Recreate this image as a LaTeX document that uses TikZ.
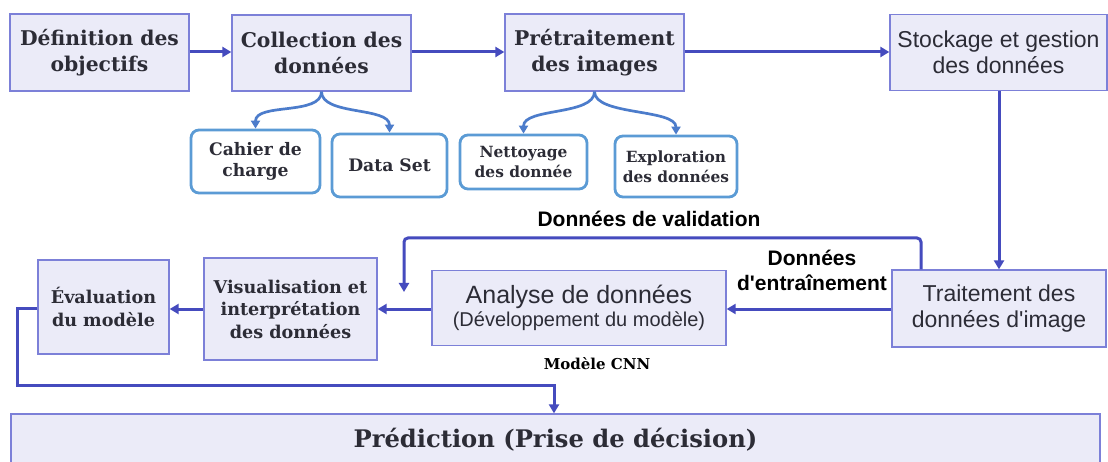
\documentclass[tikz,border=0pt]{standalone}
\usepackage{fontspec}
\setmainfont{DejaVu Serif}
\newfontfamily\sansf{Liberation Sans}
\usetikzlibrary{arrows.meta}
\definecolor{boxfill}{HTML}{EBEBF8}
\definecolor{boxline}{HTML}{7C80D8}
\definecolor{arr}{HTML}{454BBE}
\definecolor{subline}{HTML}{5B9BD5}
\definecolor{curl}{HTML}{4C7CCB}
\definecolor{txt}{HTML}{2C2C36}
\begin{document}
\begin{tikzpicture}[x=1pt,y=-1pt,
  mainbox/.style={draw=boxline, fill=boxfill, line width=1.3pt, inner sep=0pt, align=center, text=txt},
  subbox/.style={draw=subline, fill=white, line width=2.8pt, rounded corners=8pt, inner sep=0pt, align=center, text=txt},
  serifbig/.style={font=\fontsize{20.3}{26}\selectfont\bfseries},
  serifmid/.style={font=\fontsize{17.6}{22.5}\selectfont\bfseries},
  serifsub/.style={font=\fontsize{17.2}{21}\selectfont\bfseries},
  serifsmall/.style={font=\fontsize{15.4}{20}\selectfont\bfseries},
  sansbox/.style={font=\sansf\fontsize{23}{25.5}\selectfont},
  sanslabel/.style={font=\sansf\bfseries\fontsize{21}{25}\selectfont, text=black, align=center, inner sep=0pt},
  flow/.style={draw=arr, line width=3pt, -{Triangle[length=9pt,width=10pt]}},
  curlyarrow/.style={draw=curl, line width=2.7pt, -{Triangle[length=8pt,width=9pt]}},
]
\useasboundingbox (0,0) rectangle (1108,462);
\fill[white] (0,0) rectangle (1108,462);

% top row
\node[mainbox, serifbig, minimum width=179pt, minimum height=77pt] (def) at (99.5,52.5) {Définition des\\objectifs};
\node[mainbox, serifbig, minimum width=179pt, minimum height=76pt] (coll) at (321.5,53) {Collection des\\données};
\node[mainbox, serifbig, minimum width=179pt, minimum height=77pt] (pret) at (594.5,52.5) {Prétraitement\\des images};
\node[mainbox, sansbox, minimum width=217pt, minimum height=76pt] (stock) at (998.5,52.5) {Stockage et gestion\\des données};

% sub boxes
\node[subbox, serifsub, minimum width=129pt, minimum height=63pt] (cahier) at (255.5,161.5) {Cahier de\\charge};
\node[subbox, serifsub, minimum width=115pt, minimum height=63pt] (dataset) at (389.5,165.5) {Data Set};
\node[subbox, serifsmall, minimum width=127pt, minimum height=54pt] (nett) at (523.5,162) {Nettoyage\\des donnée};
\node[subbox, serifsmall, minimum width=122pt, minimum height=61pt] (explo) at (676,166.5) {Exploration\\des données};

% second row
\node[mainbox, serifmid, minimum width=131pt, minimum height=94pt] (eval) at (103.5,307) {Évaluation\\du modèle};
\node[mainbox, serifmid, minimum width=173pt, minimum height=102pt] (vis) at (290.5,309) {Visualisation et\\interprétation\\des données};
\node[mainbox, minimum width=294pt, minimum height=75pt, font=\sansf] (ana) at (579,308) {{\fontsize{25}{27}\selectfont Analyse de données}\\[2pt]{\fontsize{20}{22}\selectfont (Développement du modèle)}};
\node[mainbox, sansbox, minimum width=214pt, minimum height=77pt] (trait) at (999,308.5) {Traitement des\\données d'image};

% bottom
\node[mainbox, font=\fontsize{24.2}{28}\selectfont\bfseries, minimum width=1089pt, minimum height=52pt] (pred) at (555.5,440) {Prédiction (Prise de décision)};

% labels
\node[sanslabel] (lval) at (649,219) {Données de validation};
\node[sanslabel] (lent) at (812,270) {Données\\d'entraînement};
\node[font=\fontsize{15}{17}\selectfont\bfseries, text=black, inner sep=0pt] (lcnn) at (597,364) {Modèle CNN};

% flow arrows
\draw[flow] (def.east |- 0,52) -- (coll.west |- 0,52);
\draw[flow] (coll.east |- 0,52) -- (pret.west |- 0,52);
\draw[flow] (pret.east |- 0,52) -- (stock.west |- 0,52);
\draw[flow] (stock.south -| trait.north) -- (trait.north);
\draw[flow] (trait.west |- 0,309) -- (ana.east |- 0,309);
\draw[flow] (ana.west |- 0,309) -- (vis.east |- 0,309);
\draw[flow] (vis.west |- 0,309) -- (eval.east |- 0,309);

% validation path
\coordinate (valA) at (921,238);
\coordinate (valB) at (404,238);
\coordinate (valEnd) at (404,292);
\draw[flow, rounded corners=4pt] (trait.north -| valA) -- (valA) -- (valB) -- (valEnd);

% evaluation loop
\coordinate (loopA) at (17,308);
\coordinate (loopB) at (17,385);
\coordinate (loopC) at (554,385);
\draw[flow] (eval.west |- loopA) -- (loopA) -- (loopB) -- (loopC) -- (pred.north -| loopC);

% curly connectors
\draw[curlyarrow] (coll.south) .. controls +(0,24) and +(0,-26) .. (cahier.north);
\draw[curlyarrow] (coll.south) .. controls +(0,24) and +(0,-26) .. (dataset.north);
\draw[curlyarrow] (pret.south) .. controls +(0,24) and +(0,-26) .. (nett.north);
\draw[curlyarrow] (pret.south) .. controls +(0,24) and +(0,-26) .. (explo.north);
\end{tikzpicture}
\end{document}
